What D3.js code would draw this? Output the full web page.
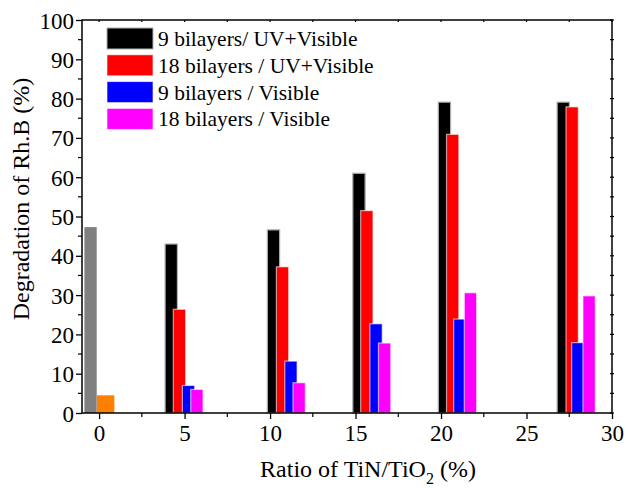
<!DOCTYPE html>
<html>
<head>
<meta charset="utf-8">
<script src="https://cdn.jsdelivr.net/npm/d3@7"></script>
</head>
<body>
<div id="chart"></div>
<script>
"use strict"

// reference bars at 0 % (gray = UV+Visible, orange = Visible)
const refX = [-0.5, 0.25];
const refValues = [47.3, 4.5];
const refColors = ["#808080", "#ff8000"];

// one x position per group for each series (bar centres, in % TiN/TiO2)
const seriesNames = [
    "9 bilayers/ UV+Visible",
    "18 bilayers / UV+Visible",
    "9 bilayers / Visible",
    "18 bilayers / Visible"
];
const seriesColors = ["#000000", "#ff0000", "#0000ff", "#ff00ff"];
const seriesX = [
    [4.22, 10.2, 15.2, 20.2, 27.15],
    [4.7, 10.73, 15.66, 20.68, 27.67],
    [5.23, 11.22, 16.2, 21.1, 28.0],
    [5.72, 11.7, 16.7, 21.72, 28.66]
];
const seriesValues = [
    [43.0, 46.6, 61.0, 79.1, 79.1],
    [26.4, 37.2, 51.5, 70.9, 77.9],
    [7.0, 13.2, 22.7, 23.9, 17.9],
    [6.0, 7.7, 17.8, 30.6, 29.8]
];

const xTicks = [0, 5, 10, 15, 20, 25, 30];
const yTicks = [0, 10, 20, 30, 40, 50, 60, 70, 80, 90, 100];

const width = 628;
const height = 488;
const margin = { top: 20, right: 16, bottom: 75, left: 82 };
const barWidth = 0.72;
const serif = "'Liberation Serif'";

d3.select("body").style("margin", "0px");

const svg = d3.select("#chart").append("svg")
    .attr("width", width)
    .attr("height", height)
    .style("display", "block");

function SerifText(sel, size)
{
    sel.attr("font-family", "Liberation Serif")
        .attr("font-size", size)
        .style("font-family", serif);
    return sel;
}

const x = d3.scaleLinear()
    .domain([-1, 30])
    .range([margin.left, width - margin.right]);

const y = d3.scaleLinear()
    .domain([0, 100])
    .range([height - margin.bottom, margin.top]);

const plot = svg.append("g");

// reference bars
plot.selectAll(".ref-bar")
    .data(refValues)
    .enter()
    .append("rect")
        .attr("class", "ref-bar")
        .attr("x", (d, i) => x(refX[i] - barWidth / 2 - (i == 0 ? 0 : 0.02)))
        .attr("y", d => y(d))
        .attr("width", (d, i) => x(barWidth + (i == 0 ? 0 : 0.3)) - x(0))
        .attr("height", d => y(0) - y(d))
        .attr("fill", (d, i) => refColors[i]);

// grouped bars, each series drawn on top of the previous one
seriesValues.forEach((values, s) => {
    plot.selectAll(`.bar-${s}`)
        .data(values)
        .enter()
        .append("rect")
            .attr("class", `bar-${s}`)
            .attr("x", (d, i) => x(seriesX[s][i] - barWidth / 2))
            .attr("y", d => y(d))
            .attr("width", x(barWidth) - x(0))
            .attr("height", d => y(0) - y(d))
            .attr("fill", seriesColors[s])
            .attr("stroke", s == 0 ? "#b0b0b0" : "rgba(255,255,255,0.6)")
            .attr("stroke-width", 1.2);
});

// axes
const bottomAxis = d3.axisBottom(x)
    .tickValues(xTicks)
    .tickSize(6)
    .tickPadding(4);
const gx = svg.append("g")
    .attr("transform", `translate(0,${y(0)})`)
    .call(bottomAxis);

const leftAxis = d3.axisLeft(y)
    .tickValues(yTicks)
    .tickSize(6)
    .tickPadding(2);
const gy = svg.append("g")
    .attr("transform", `translate(${x(-1)},0)`)
    .call(leftAxis);

[gx, gy].forEach(g => {
    g.attr("font-family", "Liberation Serif").attr("font-size", 23);
    g.select(".domain").remove();
    g.selectAll("line").attr("stroke", "#000").attr("stroke-width", 1.3);
    SerifText(g.selectAll("text"), 23).attr("fill", "#000");
});
gx.selectAll("text").attr("dy", "0.8em");
gy.selectAll("text").attr("dy", "0.35em");

// minor ticks
const minorX = d3.range(2.5, 30, 5);
const minorY = d3.range(5, 100, 10);

svg.append("g").selectAll("line")
    .data(minorX)
    .enter()
    .append("line")
        .attr("x1", d => x(d)).attr("x2", d => x(d))
        .attr("y1", y(0)).attr("y2", y(0) + 4)
        .attr("stroke", "#000").attr("stroke-width", 1.2);

svg.append("g").selectAll("line")
    .data(minorY)
    .enter()
    .append("line")
        .attr("x1", x(-1) - 4).attr("x2", x(-1))
        .attr("y1", d => y(d)).attr("y2", d => y(d))
        .attr("stroke", "#000").attr("stroke-width", 1.2);

// top and right ticks, small
svg.append("g").selectAll("line")
    .data(xTicks.concat(minorX))
    .enter()
    .append("line")
        .attr("x1", d => x(d)).attr("x2", d => x(d))
        .attr("y1", y(100)).attr("y2", y(100) + 2)
        .attr("stroke", "#000").attr("stroke-width", 1.2);

svg.append("g").selectAll("line")
    .data(yTicks.concat(minorY))
    .enter()
    .append("line")
        .attr("x1", x(30) - 2).attr("x2", x(30) + 2)
        .attr("y1", d => y(d)).attr("y2", d => y(d))
        .attr("stroke", "#000").attr("stroke-width", 1.2);

// frame
svg.append("rect")
    .attr("x", x(-1))
    .attr("y", y(100))
    .attr("width", x(30) - x(-1))
    .attr("height", y(0) - y(100))
    .attr("fill", "none")
    .attr("stroke", "#000")
    .attr("stroke-width", 1.5);

// axis titles
const xTitle = SerifText(svg.append("text"), 24)
    .attr("x", 368)
    .attr("y", 477)
    .attr("text-anchor", "middle");
xTitle.append("tspan").text("Ratio of  TiN/TiO");
xTitle.append("tspan").attr("dy", 7).attr("font-size", 16).text("2");
xTitle.append("tspan").attr("dy", -7).text(" (%)");

SerifText(svg.append("text"), 24)
    .attr("transform", "translate(29,199) rotate(-90)")
    .attr("text-anchor", "middle")
    .text("Degradation of Rh.B  (%)");

// legend
const legend = svg.append("g").attr("transform", "translate(107,28)");
const legendStep = 26.8;

legend.selectAll("rect")
    .data(seriesNames)
    .enter()
    .append("rect")
        .attr("x", 0)
        .attr("y", (_, i) => i * legendStep)
        .attr("width", 46)
        .attr("height", 21)
        .attr("fill", (_, i) => seriesColors[i])
        .attr("stroke", (_, i) => i == 0 ? "#b0b0b0" : "rgba(255,255,255,0.6)");

SerifText(legend.selectAll("text")
    .data(seriesNames)
    .enter()
    .append("text"), 21.5)
        .attr("x", 51)
        .attr("y", (_, i) => i * legendStep + 18)
        .text(d => d);
</script>
</body>
</html>
